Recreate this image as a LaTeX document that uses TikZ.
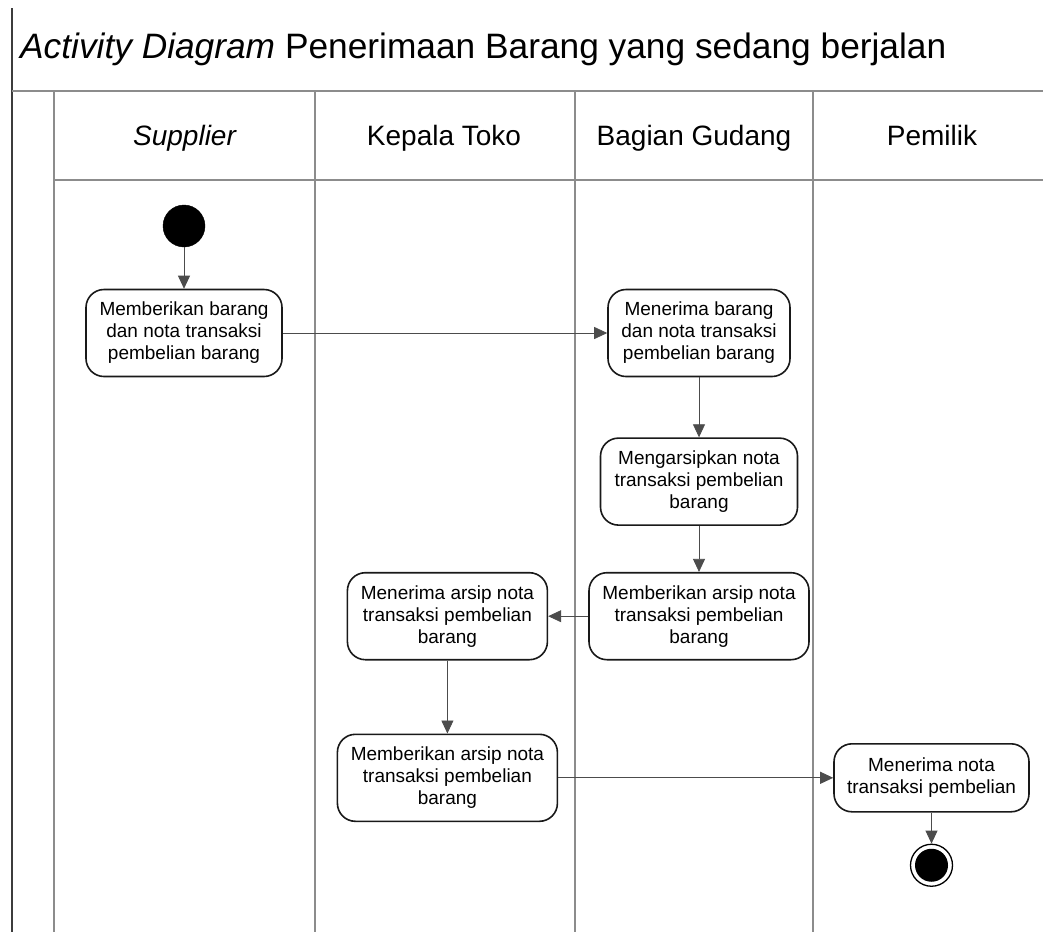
\documentclass[tikz,border=0pt]{standalone}
\usepackage{fontspec}
\setmainfont{Liberation Sans}
\usepackage{tikz}
\usetikzlibrary{arrows.meta, positioning, calc}
\usepackage{xcolor}
\definecolor{lanegray}{RGB}{140,140,140}
\definecolor{framegray}{RGB}{60,60,60}
\tikzset{
  actbox/.style={
    rectangle, rounded corners=18pt, draw=black!90, line width=1.6pt, fill=white,
    align=center, font=\fontsize{19}{22}\selectfont, inner sep=4pt, minimum height=87pt
  },
  startdot/.style={circle, fill=black, draw=black, minimum size=42pt, inner sep=0pt},
  enddot/.style={circle, fill=white, draw=black, line width=1.3pt, minimum size=42pt, inner sep=0pt},
  lanehead/.style={font=\fontsize{28}{30}\selectfont, anchor=base},
  laneline/.style={draw=lanegray, line width=1.3pt},
  flow/.style={-{Triangle[length=13pt, width=12pt]}, draw=black!70, line width=0.8pt}
}
\begin{document}
\begin{tikzpicture}[x=1pt, y=-1pt]
  \useasboundingbox (0,0) rectangle (1043,932);
  \fill[white] (0,0) rectangle (1043,932);

  % swimlane frame
  \draw[framegray, line width=1.3pt] (12,8) -- (12,932);
  \draw[laneline] (12,91) -- (1043,91);
  \draw[laneline] (54,180) -- (1043,180);
  \foreach \lx in {54,315,575,813}
    \draw[laneline] (\lx,91) -- (\lx,932);

  % title and lane names
  \node[anchor=base west, inner sep=0pt, font=\fontsize{35.3}{38}\selectfont] (title) at (20,58)
        {\textit{Activity Diagram} Penerimaan Barang yang sedang berjalan};
  \node[lanehead] (supplier) at (185,145) {\textit{Supplier}};
  \node[lanehead] (kepala) at (444,145) {Kepala Toko};
  \node[lanehead] (gudang) at (694,145) {Bagian Gudang};
  \node[lanehead] (pemilik) at (932,145) {Pemilik};

  % activities
  \node[startdot] (start) at (184,226) {};
  \node[actbox, minimum width=196pt] (beri) at (184,333)
        {Memberikan barang\\dan nota transaksi\\pembelian barang};
  \node[actbox, minimum width=182pt] (terima) at (699,333)
        {Menerima barang\\dan nota transaksi\\pembelian barang};
  \node[actbox, minimum width=197pt, below=60pt of terima] (arsip)
        {Mengarsipkan nota\\transaksi pembelian\\barang};
  \node[actbox, minimum width=220pt, below=46pt of arsip] (beriarsip)
        {Memberikan arsip nota\\transaksi pembelian\\barang};
  \node[actbox, minimum width=200pt, left=40pt of beriarsip] (terimaarsip)
        {Menerima arsip nota\\transaksi pembelian\\barang};
  \node[actbox, minimum width=220pt, below=73pt of terimaarsip] (beriarsipkt)
        {Memberikan arsip nota\\transaksi pembelian\\barang};
  \node[actbox, minimum width=195pt, minimum height=68pt, right=275pt of beriarsipkt] (terimanota)
        {Menerima nota\\transaksi pembelian};
  \node[enddot, below=31pt of terimanota] (stop) {};
  \fill[black] (stop.center) circle (16.5pt);

  \draw[flow] (start) -- (beri);
  \draw[flow] (beri) -- (terima);
  \draw[flow] (terima) -- (arsip);
  \draw[flow] (arsip) -- (beriarsip);
  \draw[flow] (beriarsip) -- (terimaarsip);
  \draw[flow] (terimaarsip) -- (beriarsipkt);
  \draw[flow] (beriarsipkt) -- (terimanota);
  \draw[flow] (terimanota) -- (stop);
\end{tikzpicture}
\end{document}
